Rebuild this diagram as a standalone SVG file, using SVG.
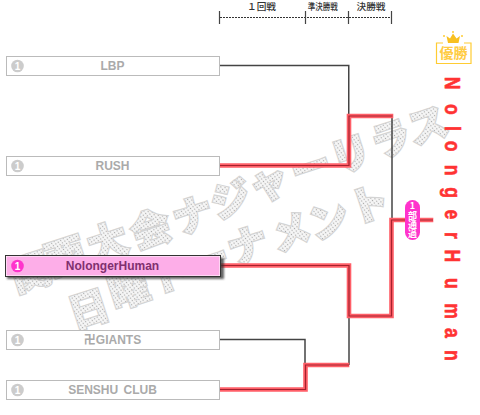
<svg xmlns="http://www.w3.org/2000/svg" width="480" height="415" viewBox="0 0 480 415">
<style>
.wm{font-family:"Noto Sans CJK JP",sans-serif;font-weight:900;font-size:40px;fill:url(#dots);stroke:#d4d4d4;stroke-width:2.4;paint-order:stroke;text-anchor:middle;dominant-baseline:central}
.box{fill:#fff;stroke:#bbb;stroke-width:1}
.num{fill:#ccc}
.numt{font-family:"Liberation Sans",sans-serif;font-weight:700;font-size:10px;fill:#fff;text-anchor:middle}
.name{font-family:"Liberation Sans","Noto Sans CJK JP",sans-serif;font-weight:700;font-size:12px;word-spacing:2px;fill:#aaa;text-anchor:middle}
.hd{font-family:"Noto Sans CJK JP",sans-serif;font-weight:500;font-size:9.5px;fill:#333;text-anchor:middle}
.blk{fill:none;stroke:#444;stroke-width:1.5}
.rg{fill:none;stroke:#ff5f68;stroke-width:4.6;stroke-linecap:square}
.rc{fill:none;stroke:#a5222e;stroke-width:1.2}
.champ{font-family:"Liberation Sans",sans-serif;font-weight:700;font-size:22px;fill:#f33;stroke:#f33;stroke-width:.6}
</style>
<defs>
<pattern id="dots" width="3" height="3" patternUnits="userSpaceOnUse" patternTransform="rotate(-18)">
<rect width="3" height="3" fill="#f6f6f6"/><circle cx="1.5" cy="1.5" r=".65" fill="#a8a8a8"/>
</pattern>
<filter id="sh" x="-5%" y="-30%" width="110%" height="170%"><feGaussianBlur stdDeviation="1.2"/></filter>
</defs>
<rect width="480" height="415" fill="#fff"/>
<g id="watermark">
<text class="wm" transform="translate(30,270) rotate(-18)">関</text>
<text class="wm" transform="translate(65,254) rotate(-18)">西</text>
<text class="wm" transform="translate(107,240) rotate(-18)">大</text>
<text class="wm" transform="translate(150,227) rotate(-18)">会</text>
<text class="wm" transform="translate(192,213) rotate(-18)">ナ</text>
<text class="wm" transform="translate(230,197) rotate(-18)">ジ</text>
<text class="wm" transform="translate(268,180) rotate(-18)">ャ</text>
<text class="wm" transform="translate(310,165) rotate(-18)">ー</text>
<text class="wm" transform="translate(350,152) rotate(-18)">リ</text>
<text class="wm" transform="translate(390,137) rotate(-18)">ラ</text>
<text class="wm" transform="translate(427,123) rotate(-18)">ス</text>
<text class="wm" transform="translate(88,307) rotate(-18)">日</text>
<text class="wm" transform="translate(128,287) rotate(-18)">曜</text>
<text class="wm" transform="translate(168,272) rotate(-18)">ト</text>
<text class="wm" transform="translate(208,258) rotate(-18)">ー</text>
<text class="wm" transform="translate(247,243) rotate(-18)">ナ</text>
<text class="wm" transform="translate(290,230) rotate(-18)">メ</text>
<text class="wm" transform="translate(328,218) rotate(-18)">ン</text>
<text class="wm" transform="translate(368,202) rotate(-18)">ト</text>
</g>
<g id="header">
<text class="hd" x="261.5" y="10" textLength="29" lengthAdjust="spacingAndGlyphs">１回戦</text>
<text class="hd" x="322.7" y="10" textLength="30" lengthAdjust="spacingAndGlyphs">準決勝戦</text>
<text class="hd" x="371" y="10" textLength="29" lengthAdjust="spacingAndGlyphs">決勝戦</text>
<path d="M220 17.500H391" fill="none" stroke="#333" stroke-width="1" stroke-dasharray="2 1"/>
<path d="M219.500 11V24M305.500 11V24M348.500 11V24M391.500 11V24" fill="none" stroke="#444" stroke-width="1.200"/>
</g>
<g id="connectors">
<path class="blk" d="M220 65.500H348.750V116"/>
<path class="blk" d="M392 116V220"/>
<path class="blk" d="M220 339.500H305V365"/>
<path class="blk" d="M349 316V365"/>
<path class="rg" d="M222 165.500H349V116H391"/>
<path class="rc" d="M220 165.500H349V116H392.500"/>
<path class="rg" d="M222 265.500H349V316H391.500V220H431"/>
<path class="rc" d="M220 265.500H349V316H391.500V220H433"/>
<path class="rg" d="M222 389.500H305.500V365H347"/>
<path class="rc" d="M220 389.500H305.500V365H349"/>
</g>
<g id="node-lbp">
<rect class="box" x="6.500" y="56.500" width="213" height="19"/>
<circle class="num" cx="17.500" cy="66" r="6.300"/><text class="numt" x="17.500" y="69.500">1</text>
<text class="name" x="112.500" y="70">LBP</text>
</g>
<g id="node-rush">
<rect class="box" x="6.500" y="156.500" width="213" height="19"/>
<circle class="num" cx="17.500" cy="166" r="6.300"/><text class="numt" x="17.500" y="169.500">1</text>
<text class="name" x="112.500" y="170">RUSH</text>
</g>
<g id="node-nolongerhuman">
<rect x="7" y="258" width="217" height="21" fill="#333" opacity=".75" filter="url(#sh)"/>
<rect x="5.500" y="255.500" width="215" height="21" fill="#fff" stroke="#333" stroke-width="1"/>
<rect x="6.500" y="256.500" width="213" height="19" fill="#fdaee8"/>
<circle cx="17.500" cy="266" r="6.300" fill="#f3c"/><text class="numt" x="17.500" y="269.500">1</text>
<text class="name" x="112.500" y="270" style="fill:#80306f">NolongerHuman</text>
</g>
<g id="node-giants">
<rect class="box" x="6.500" y="330.500" width="213" height="19"/>
<circle class="num" cx="17.500" cy="340" r="6.300"/><text class="numt" x="17.500" y="343.500">1</text>
<text class="name" x="112.500" y="344">卍GIANTS</text>
</g>
<g id="node-senshu">
<rect class="box" x="6.500" y="380.500" width="213" height="19"/>
<circle class="num" cx="17.500" cy="390" r="6.300"/><text class="numt" x="17.500" y="393.500">1</text>
<text class="name" x="112.500" y="394">SENSHU CLUB</text>
</g>
<g id="badge-pass">
<rect x="405" y="200" width="15" height="40" rx="7.500" fill="#f3c"/>
<text font-family="Noto Sans CJK JP,sans-serif" font-size="9" font-weight="700" fill="#fff" text-anchor="middle" x="412.500 412.500 412.500 412.500" y="209 218.500 227.500 236.500">1部通過</text>
</g>
<g id="champion">
<path d="M443 43H436.500V63.500H471V43H464" fill="none" stroke="#fc3" stroke-width="1.200"/>
<path d="M446.500 36L450 38.500L453 33.500L456.500 38.500L460 36L458.500 43H448Z" fill="#f8c020"/>
<circle cx="444" cy="36" r="1" fill="#fc3"/><circle cx="453" cy="32" r="1" fill="#fc3"/><circle cx="462" cy="36" r="1" fill="#fc3"/>
<text x="453.500" y="58" font-family="Noto Sans CJK JP,sans-serif" font-size="14" font-weight="700" fill="#fc4" text-anchor="middle">優勝</text>
<text class="champ" transform="translate(445,0) rotate(90) scale(.8,1)" x="96 130 157.500 176 206 234 262 290 312 347.500 379 410 437.500">NolongerHuman</text>
</g>
</svg>
